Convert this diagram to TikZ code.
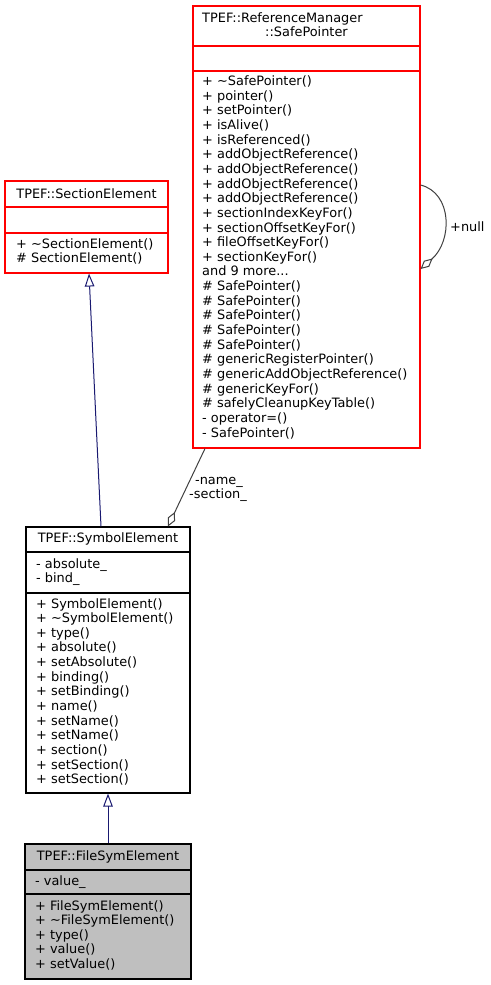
\documentclass[tikz,border=0pt]{standalone}
\usepackage{fontspec}
\setmainfont{DejaVu Sans}
\usetikzlibrary{arrows.meta}
\definecolor{edgeblue}{HTML}{191970}
\definecolor{edgegray}{HTML}{404040}
\definecolor{fillgray}{HTML}{BFBFBF}
\begin{document}
\begin{tikzpicture}[x=1pt, y=-1pt,
    every node/.style={font=\fontsize{12.9}{14.65}\selectfont, inner sep=0},
    box/.style={draw=black, line width=1.1pt, rectangle, inner sep=0},
    redbox/.style={box, draw=red},
    sepline/.style={line width=1.1pt},
    member/.style={anchor=base west},
    title/.style={anchor=base},
    inherit/.style={draw=edgeblue, line width=1pt, -{Triangle[open, length=13pt, width=9.5pt]}},
    usage/.style={draw=edgegray, line width=1pt, -{Diamond[open, length=16pt, width=8pt]}}]
    \useasboundingbox (0,0) rectangle (490,985);

    % class boxes
    \node[redbox, minimum width=227, minimum height=442] (sp) at (306.5,227) {};
    \node[redbox, minimum width=163, minimum height=92] (sect) at (86.5,227) {};
    \node[box, minimum width=164, minimum height=266] (symb) at (108,660) {};
    \node[box, fill=fillgray, minimum width=166, minimum height=135] (file) at (108,911.5) {};

    \draw[sepline, red] (sp.west |- 0,46) -- (sp.east |- 0,46);
    \draw[sepline, red] (sp.west |- 0,71) -- (sp.east |- 0,71);
    \draw[sepline, red] (sect.west |- 0,207) -- (sect.east |- 0,207);
    \draw[sepline, red] (sect.west |- 0,233) -- (sect.east |- 0,233);
    \draw[sepline] (symb.west |- 0,552) -- (symb.east |- 0,552);
    \draw[sepline] (symb.west |- 0,593) -- (symb.east |- 0,593);
    \draw[sepline] (file.west |- 0,870) -- (file.east |- 0,870);
    \draw[sepline] (file.west |- 0,894) -- (file.east |- 0,894);

    % TPEF::ReferenceManager::SafePointer
    \node[member] (spt1) at (202,22) {TPEF::ReferenceManager};
    \node[title] (spt2) at (306.5,36) {::SafePointer};
    \foreach \m [count=\i from 0] in {+ \textasciitilde SafePointer(), + pointer(), + setPointer(),
        + isAlive(), + isReferenced(), + addObjectReference(), + addObjectReference(),
        + addObjectReference(), + addObjectReference(), + sectionIndexKeyFor(),
        + sectionOffsetKeyFor(), + fileOffsetKeyFor(), + sectionKeyFor(), and 9 more.{}.{}.,
        \# SafePointer(), \# SafePointer(), \# SafePointer(), \# SafePointer(),
        \# SafePointer(), \# genericRegisterPointer(), \# genericAddObjectReference(),
        \# genericKeyFor(), \# safelyCleanupKeyTable(), - operator=(), - SafePointer()}
        \node[member] (spm\i) at (202,85.5+\i*14.65) {\m};

    % TPEF::SectionElement
    \node[title] (sectt) at (86.5,198) {TPEF::SectionElement};
    \foreach \m [count=\i from 0] in {+ \textasciitilde SectionElement(), \# SectionElement()}
        \node[member] (sectm\i) at (16,248+\i*14.65) {\m};

    % TPEF::SymbolElement
    \node[title] (symbt) at (108,542) {TPEF::SymbolElement};
    \foreach \m [count=\i from 0] in {- absolute\_, - bind\_}
        \node[member] (symba\i) at (36,568+\i*14.65) {\m};
    \foreach \m [count=\i from 0] in {+ SymbolElement(), + \textasciitilde SymbolElement(),
        + type(), + absolute(), + setAbsolute(), + binding(), + setBinding(), + name(),
        + setName(), + setName(), + section(), + setSection(), + setSection()}
        \node[member] (symbm\i) at (36,608+\i*14.65) {\m};

    % TPEF::FileSymElement
    \node[title] (filet) at (108,860) {TPEF::FileSymElement};
    \node[member] (filea0) at (35,885.5) {- value\_};
    \foreach \m [count=\i from 0] in {+ FileSymElement(), + \textasciitilde FileSymElement(),
        + type(), + value(), + setValue()}
        \node[member] (filem\i) at (35,910+\i*14.65) {\m};

    % connectors
    \draw[inherit] ([xshift=-7]symb.north) -- ([xshift=2.5]sect.south);
    \draw[inherit] (file.north) -- (symb.south);
    \draw[usage] ([xshift=-101.5]sp.south) -- ([xshift=60]symb.north);
    \draw[usage] ([yshift=42]sp.east) .. controls +(32,8) and +(32,-28) .. ([yshift=-42]sp.east);

    \node[title] (lname) at (219,484) {-name\_};
    \node[title] (lsect) at (218,498) {-section\_};
    \node[member] (lnull) at (450,231) {+null};
\end{tikzpicture}
\end{document}
